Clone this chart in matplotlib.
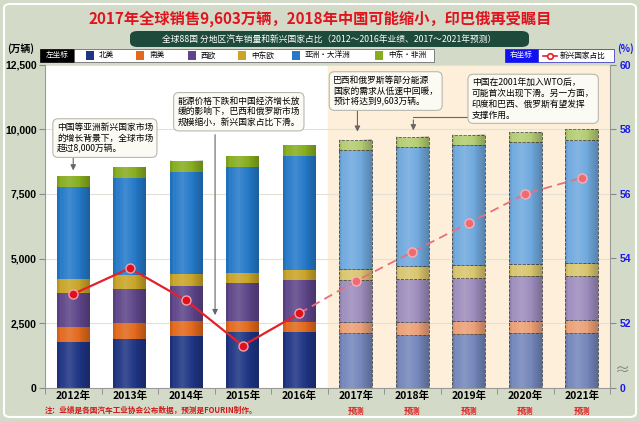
import numpy as np
import matplotlib.pyplot as plt
from matplotlib.patches import FancyBboxPatch, Rectangle

plt.rcParams['font.family'] = ['Noto Sans CJK SC', 'DejaVu Sans']

# data (万辆 / %)
years = ['2012年', '2013年', '2014年', '2015年', '2016年',
         '2017年', '2018年', '2019年', '2020年', '2021年']
north_america = [1776, 1880, 2008, 2139, 2162, 2100, 2035, 2062, 2100, 2124]
south_america = [579, 606, 567, 436, 386, 425, 490, 502, 487, 490]
west_europe = [1328, 1325, 1352, 1494, 1610, 1633, 1672, 1683, 1737, 1710]
central_east_europe = [541, 540, 463, 386, 413, 452, 513, 517, 479, 518]
asia_oceania = [3537, 3757, 3950, 4078, 4387, 4607, 4622, 4645, 4695, 4748]
me_africa = [413, 425, 452, 425, 424, 386, 386, 386, 402, 410]
emerging_share = [52.9, 53.7, 52.7, 51.3, 52.3, 53.3, 54.2, 55.1, 56.0, 56.5]
n_actual = 5

series = [north_america, south_america, west_europe, central_east_europe,
          asia_oceania, me_africa]
names = ['北美', '南美', '西欧', '中东欧', '亚洲・大洋洲', '中东・非洲']
col_actual = ['#1f3584', '#e2691c', '#5e4589', '#c9a427', '#2479c9', '#87ad1f']
col_fcst = ['#7487bb', '#eba077', '#9d8dbd', '#d9c56d', '#70a9de', '#b3cd72']

W, H = 640, 421
def fx(px):
    return px / W
def fy(py):
    return 1 - py / H

fig = plt.figure(figsize=(6.4, 4.21), dpi=100)
fig.patch.set_facecolor('#d3dbc8')
fig.patches.append(FancyBboxPatch((fx(4), fy(417)), fx(632), 413 / H,
                                  boxstyle='round,pad=0,rounding_size=0.01',
                                  transform=fig.transFigure, fc='none',
                                  ec='white', lw=1.5))

ax = fig.add_axes([fx(45), fy(387.7), fx(565), 323 / H])
ax.set_facecolor('white')
x = np.arange(len(years))
ax.axvspan(n_actual - 0.5, len(years) - 0.5, color='#fdefd9', zorder=0)

bar_w = 0.58
bottom = np.zeros(len(years))
for vals, ca, cf in zip(series, col_actual, col_fcst):
    vals = np.array(vals, dtype=float)
    ax.bar(x[:n_actual], vals[:n_actual], bar_w, bottom=bottom[:n_actual],
           color=ca, edgecolor='none', zorder=2)
    ax.bar(x[n_actual:], vals[n_actual:], bar_w, bottom=bottom[n_actual:],
           color=cf, edgecolor='#4a4a4a', linewidth=0.6, linestyle='--', zorder=2)
    bottom += vals

# cylinder-like shading over each bar
t = np.linspace(0, 1, 60)
shade = np.zeros((1, 60, 4))
light = np.clip(1 - np.abs(t - 0.38) / 0.3, 0, 1)
dark = np.clip((np.abs(t - 0.4) - 0.25) / 0.35, 0, 1)
shade[0, :, :3] = np.where(light[:, None] > 0, 1.0, 0.0)
shade[0, :, 3] = 0.14 * light + 0.22 * dark
for i, total in enumerate(bottom):
    ax.imshow(shade, extent=[x[i] - bar_w / 2, x[i] + bar_w / 2, 0, total],
              aspect='auto', zorder=3, interpolation='bilinear')

ax.set_xlim(-0.5, len(years) - 0.5)
ax.set_ylim(0, 12500)
ax.set_yticks(np.arange(0, 12501, 2500))
ax.set_yticklabels(['0', '2,500', '5,000', '7,500', '10,000', '12,500'],
                   fontsize=7.5, fontweight='bold', family=['Liberation Sans'])
ax.yaxis.grid(True, color='#e4e0d8', lw=0.8, zorder=1)
ax.set_axisbelow(True)
ax.set_xticks(x)
ax.set_xticklabels(years, fontsize=7.5, fontweight='bold')
ax.set_xticks(np.arange(-0.5, len(years), 1), minor=True)
ax.tick_params(axis='x', which='major', length=0, pad=2)
ax.tick_params(axis='x', which='minor', length=4, color='#888888')
ax.tick_params(axis='y', length=4, color='#888888', pad=2)
for s in ['top', 'right']:
    ax.spines[s].set_visible(False)
ax.spines['left'].set_color('#999999')
ax.spines['bottom'].set_color('#999999')

ax2 = ax.twinx()
ax2.set_ylim(50, 60)
ax2.set_yticks([50, 52, 54, 56, 58, 60])
ax2.set_yticklabels(['0', '52', '54', '56', '58', '60'], color='#1a1ae6',
                    fontsize=7.5, fontweight='bold', family=['Liberation Sans'])
ax2.tick_params(axis='y', length=4, color='#888888', pad=3)
for s in ['top', 'left', 'bottom']:
    ax2.spines[s].set_visible(False)
ax2.spines['right'].set_color('#999999')
ax2.plot(x[:n_actual], emerging_share[:n_actual], color='#e5202b', lw=1.6, zorder=5)
ax2.plot(x[n_actual - 1:], emerging_share[n_actual - 1:], color='#e8707c', lw=1.3,
         ls=(0, (5, 3)), zorder=5)
ax2.plot(x[:n_actual], emerging_share[:n_actual], 'o', ms=6.5, mfc='#e01020',
         mec='#f6a0a8', mew=1, zorder=6)
ax2.plot(x[n_actual:], emerging_share[n_actual:], 'o', ms=6.5, mfc='#f06a74',
         mec='#f8b0b6', mew=1, zorder=6)

# forecast labels under the axis
for i in range(n_actual, len(years)):
    ax.text(x[i], -0.073, '预测', transform=ax.get_xaxis_transform(),
            ha='center', va='center', fontsize=6, color='#e02020', fontweight='bold')

# annotations
box = dict(boxstyle='round,pad=0.45,rounding_size=0.6', fc='#fbfaf3',
           ec='#b8b8b0', lw=0.8)
arrow = dict(arrowstyle='-|>', color='#666666', lw=0.8, mutation_scale=8)
ann_font = dict(fontsize=6.3, linespacing=1.25, zorder=8, bbox=box, va='center',
                ha='center', multialignment='left')

ax.text(0.56, 9660, '中国等亚洲新兴国家市场\n的增长背景下，全球市场\n超过8,000万辆。',
        **ann_font)
ax.annotate('', xy=(0, 8300), xytext=(0, 9000), arrowprops=arrow, zorder=7)

ax.text(2.93, 10680, '能源价格下跌和中国经济增长放\n缓的影响下，巴西和俄罗斯市场\n规模缩小，新兴国家占比下滑。',
        **ann_font)
ax.annotate('', xy=(2.51, 2700), xytext=(2.51, 9900), arrowprops=arrow, zorder=7)

ax.text(5.53, 11480, '巴西和俄罗斯等部分能源\n国家的需求从低速中回暖，\n预计将达到9,603万辆。',
        **ann_font)
ax.annotate('', xy=(5.03, 9800), xytext=(5.03, 10850), arrowprops=arrow, zorder=7)

ax.text(8.14, 11180, '中国在2001年加入WTO后，\n可能首次出现下滑。另一方面，\n印度和巴西、俄罗斯有望发挥\n支撑作用。',
        **ann_font)
ax.plot([7.1, 6.02], [10470, 10470], color='#666666', lw=0.8, zorder=7)
ax.annotate('', xy=(6.02, 9850), xytext=(6.02, 10470), arrowprops=arrow, zorder=7)

# title & subtitle
fig.text(0.5, fy(19), '2017年全球销售9,603万辆，2018年中国可能缩小，印巴俄再受瞩目',
         ha='center', va='center', fontsize=11, color='#e0141e', fontweight='bold')
fig.patches.append(FancyBboxPatch((fx(130), fy(47)), fx(399), 16 / H,
                                  boxstyle='round,pad=0,rounding_size=0.012',
                                  transform=fig.transFigure, fc='#1d4a3a', ec='none'))
fig.text(fx(329), fy(39), '全球88国 分地区汽车销量和新兴国家占比（2012～2016年业绩、2017～2021年预测）',
         ha='center', va='center', fontsize=6.3, color='white')

# legend row
fig.text(fx(21), fy(49), '(万辆)', ha='center', va='center', fontsize=7, fontweight='bold')
fig.text(fx(626), fy(49), '(%)', ha='center', va='center', fontsize=7,
         fontweight='bold', color='#1a1ae6')
fig.patches.append(Rectangle((fx(40), fy(62)), fx(34), 13 / H,
                             transform=fig.transFigure, fc='black', ec='black', lw=0.5))
fig.text(fx(57), fy(55.5), '左坐标', ha='center', va='center', fontsize=5.5, color='white')
fig.patches.append(Rectangle((fx(74), fy(62)), fx(360), 13 / H,
                             transform=fig.transFigure, fc='white', ec='#555555', lw=0.5))
leg_x = [86, 136, 188, 238, 292, 375]
for lx, name, c in zip(leg_x, names, col_actual):
    fig.patches.append(Rectangle((fx(lx), fy(60)), fx(8), 9 / H,
                                 transform=fig.transFigure, fc=c, ec='none'))
    fig.text(fx(lx + 13), fy(55.5), name, ha='left', va='center', fontsize=5.5)

fig.patches.append(Rectangle((fx(505), fy(62)), fx(33), 13 / H,
                             transform=fig.transFigure, fc='#1010f0', ec='#1010f0', lw=0.5))
fig.text(fx(521.5), fy(55.5), '右坐标', ha='center', va='center', fontsize=5.5, color='white')
fig.patches.append(Rectangle((fx(538), fy(62)), fx(76), 13 / H,
                             transform=fig.transFigure, fc='white', ec='#2020c0', lw=0.5))
fig.lines.append(plt.Line2D([fx(543), fx(557)], [fy(55.5), fy(55.5)],
                            transform=fig.transFigure, color='#e5202b', lw=1.2))
fig.lines.append(plt.Line2D([fx(550)], [fy(55.5)], transform=fig.transFigure,
                            marker='o', ms=4, mfc='white', mec='#e5202b', mew=1.2))
fig.text(fx(560), fy(55.5), '新兴国家占比', ha='left', va='center', fontsize=5.5)

# axis break mark & footnote
fig.text(fx(622), fy(370), '≈', ha='center', va='center', fontsize=11, color='#888888')
fig.text(fx(45), fy(410), '注：业绩是各国汽车工业协会公布数据，预测是FOURIN制作。',
         ha='left', va='center', fontsize=5.5, color='#d01818', fontweight='bold')

fig.savefig('out.png', dpi=100, facecolor=fig.get_facecolor())
